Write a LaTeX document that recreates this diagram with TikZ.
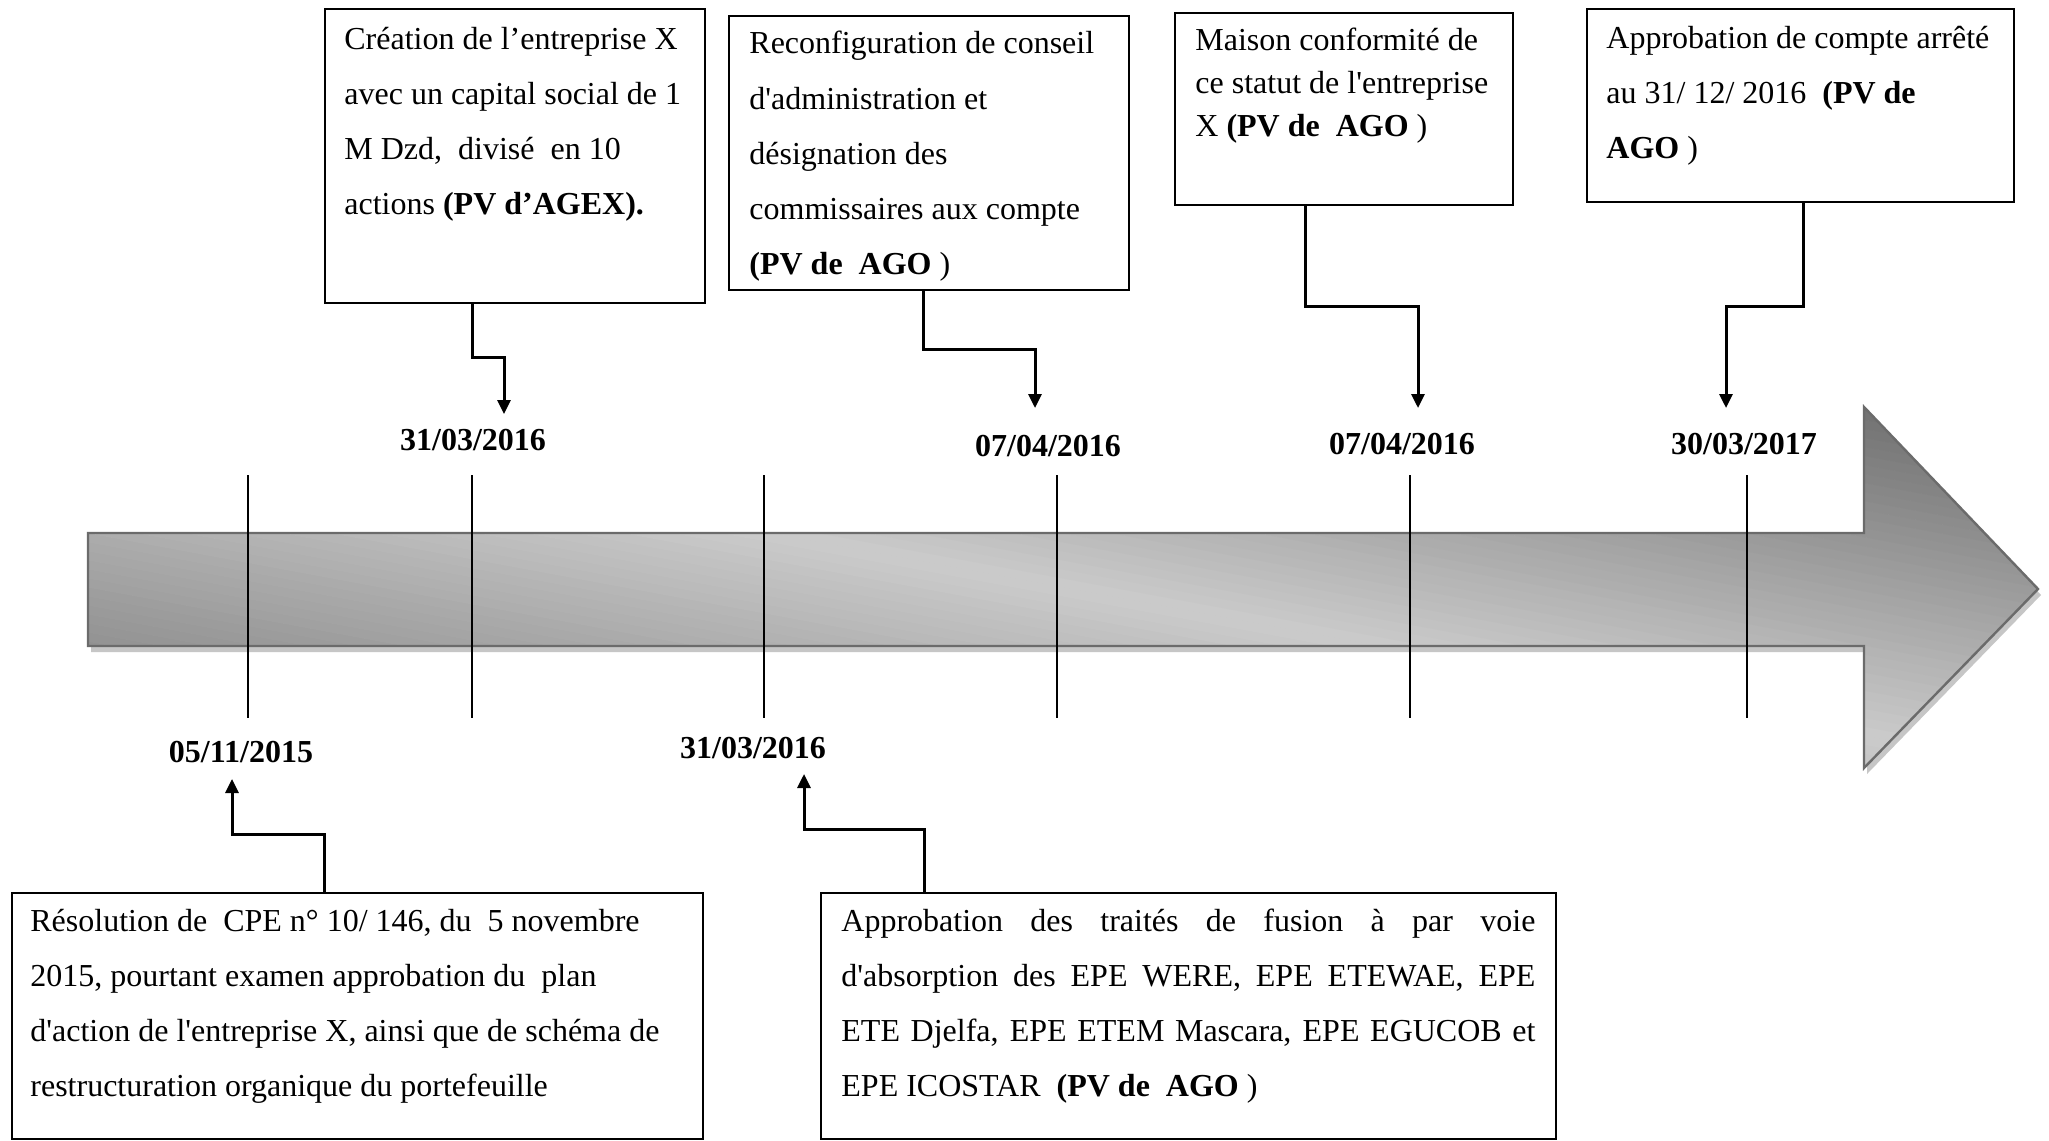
\documentclass[tikz,border=0pt]{standalone}
\usepackage{fontspec}
\setmainfont{Liberation Serif}[Ligatures=TeXOff]
\usetikzlibrary{arrows.meta}

\definecolor{arrowdark}{HTML}{686868}
\definecolor{arrowdarklow}{HTML}{747474}
\definecolor{arrowlight}{HTML}{CBCBCB}
\definecolor{arrowedge}{HTML}{6B6B6B}
\definecolor{arrowshadow}{HTML}{C6C6C6}

% outline of the timeline arrow
\def\timelinearrow{(88,533) -- (1864,533) -- (1864,407) -- (2038,589) -- (1864,768) -- (1864,646) -- (88,646) -- cycle}

\begin{document}
\begin{tikzpicture}[x=0.5pt, y=-0.5pt,
  evbox/.style={draw=black, line width=1pt, rectangle, anchor=north west, inner sep=0pt},
  evtext/.style={anchor=base west, inner sep=0pt, align=left, font=\fontsize{16}{27.6}\selectfont,
    execute at begin node={\spaceskip=4pt plus 3pt minus 0.5pt\xspaceskip=4pt plus 3pt}},
  datelbl/.style={anchor=base, inner sep=0pt, font=\bfseries\fontsize{16}{19}\selectfont},
  conn/.style={line width=1.5pt, -{Triangle[length=7pt,width=6.5pt]}},
  tickline/.style={line width=0.75pt}
]
\fill[white] (0,0) rectangle (2049,1140);
\useasboundingbox (0,0) rectangle (2049,1140);

% timeline arrow: soft shadow, diagonal grey gradient in strips, outline
\fill[arrowshadow, shift={(3,6)}] \timelinearrow;
\begin{scope}
  \clip \timelinearrow;
  \foreach \i in {0,...,79} {
    \pgfmathsetmacro\ca{\i/40-1}
    \pgfmathsetmacro\cb{(\i+1.05)/40-1}
    \ifnum\i<40
      \pgfmathsetmacro\pct{100*(\i+0.5)/40}
      \colorlet{stripcol}{arrowlight!\pct!arrowdarklow}
    \else
      \pgfmathsetmacro\pct{100*(79.5-\i)/40}
      \colorlet{stripcol}{arrowlight!\pct!arrowdark}
    \fi
    \fill[stripcol] ({88+1950*\ca},407) -- ({88+1950*\cb},407)
      -- ({88+1950*(\cb+1)},768) -- ({88+1950*(\ca+1)},768) -- cycle;
  }
\end{scope}
\draw[arrowedge, line width=1.2pt, line join=miter] \timelinearrow;

% ticks across the timeline
\foreach \x/\n in {248/t1, 472/t2, 764/t3, 1057/t4, 1410/t5, 1747/t6} {
  \coordinate (\n top) at (\x,475);
  \coordinate (\n bot) at (\x,718);
  \draw[tickline] (\n top) -- (\n bot);
}

% dates
\node[datelbl] (d1) at (241,762) {05/11/2015};
\node[datelbl] (d2) at (473,450) {31/03/2016};
\node[datelbl] (d3) at (753,758) {31/03/2016};
\node[datelbl] (d4) at (1048,456) {07/04/2016};
\node[datelbl] (d5) at (1402,454) {07/04/2016};
\node[datelbl] (d6) at (1744,454) {30/03/2017};

% event boxes
\node[evbox, minimum width=190pt, minimum height=147pt] (b1) at (324,8) {};
\node[evbox, minimum width=200pt, minimum height=137pt] (b2) at (728,15) {};
\node[evbox, minimum width=169pt, minimum height=96pt] (b3) at (1174,12) {};
\node[evbox, minimum width=213.5pt, minimum height=96.5pt] (b4) at (1586,8) {};
\node[evbox, minimum width=345.5pt, minimum height=123pt] (b5) at (11,892) {};
\node[evbox, minimum width=367.5pt, minimum height=123pt] (b6) at (820,892) {};

% box texts
\node[evtext, text width=185pt] (x1) at (344,49) {Création de l’entreprise X\\
avec un capital social de 1\\
M Dzd,\ \ divisé\ \ en 10\\
actions \textbf{(PV d’AGEX).}};

\node[evtext, text width=190pt] (x2) at (749,54) {Reconfiguration de conseil\\
d'administration et\\
désignation des\\
commissaires aux compte\\
\textbf{(PV de\ \ AGO} )};

\node[evtext, text width=160pt, font=\fontsize{16}{21.5}\selectfont] (x3) at (1195,50) {Maison conformité de\\
ce statut de l'entreprise\\
X \textbf{(PV de\ \ AGO} )};

\node[evtext, text width=200pt] (x4) at (1606,48) {Approbation de compte arrêté\\
au 31/ 12/ 2016\ \ \textbf{(PV de}\\
\textbf{AGO} )};

\node[evtext, text width=335pt] (x5) at (30,931) {Résolution de\ \ CPE n° 10/ 146, du\ \ 5 novembre\\
2015, pourtant examen approbation du\ \ plan\\
d'action de l'entreprise X, ainsi que de schéma de\\
restructuration organique du portefeuille};

\node[evtext, text width=347pt] (x6) at (841,931) {\makebox[347pt][s]{Approbation des traités de fusion à par voie}\\
\makebox[347pt][s]{d'absorption des EPE WERE, EPE ETEWAE, EPE}\\
\makebox[347pt][s]{ETE Djelfa, EPE ETEM Mascara, EPE EGUCOB et}\\
EPE ICOSTAR\ \ \textbf{(PV de\ \ AGO} )};

% connectors from the boxes to their dates
\coordinate (k1) at (472,357);  \coordinate (e1) at (504,414);
\coordinate (k2) at (923,349);  \coordinate (e2) at (1035,408);
\coordinate (k3) at (1305,306); \coordinate (e3) at (1418,408);
\coordinate (k4) at (1803,306); \coordinate (e4) at (1726,408);
\coordinate (k5) at (324,834);  \coordinate (e5) at (232,779);
\coordinate (k6) at (924,829);  \coordinate (e6) at (804,774);

\draw[conn] (b1.south -| k1) -- (k1) -| (e1);
\draw[conn] (b2.south -| k2) -- (k2) -| (e2);
\draw[conn] (b3.south -| k3) -- (k3) -| (e3);
\draw[conn] (b4.south -| k4) -- (k4) -| (e4);
\draw[conn] (b5.north -| k5) -- (k5) -| (e5);
\draw[conn] (b6.north -| k6) -- (k6) -| (e6);
\end{tikzpicture}
\end{document}
